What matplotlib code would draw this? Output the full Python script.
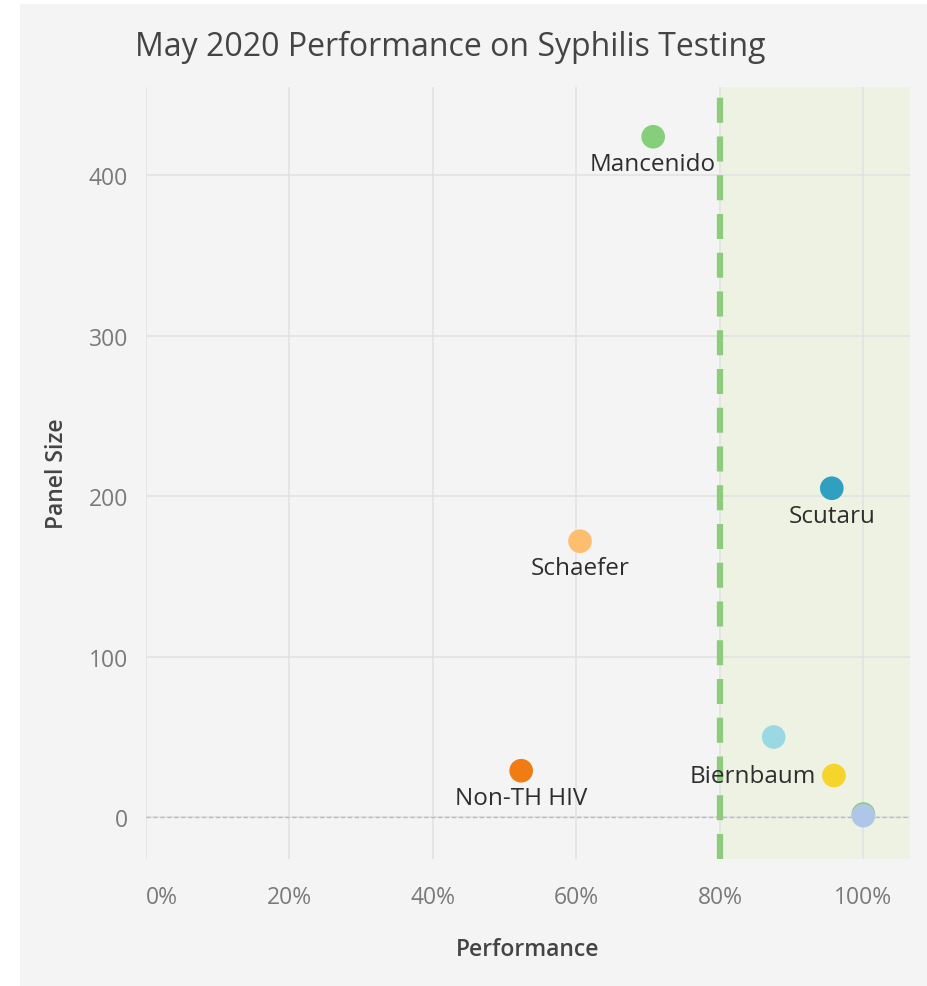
import matplotlib.pyplot as plt
from matplotlib.patches import Rectangle
from matplotlib.ticker import PercentFormatter

plt.rcParams['font.family'] = ['Open Sans', 'DejaVu Sans']

names = ['Mancenido', 'Scutaru', 'Schaefer', 'Non-TH HIV', '', 'Biernbaum', '', '']
performance = [0.707, 0.956, 0.605, 0.523, 0.875, 0.959, 1.0, 1.0]
panel_size = [424, 205, 172, 29, 50, 26, 2, 1]
colors = ['#86cf7a', '#2fa0bf', '#fdbf6f', '#ef7d14', '#9ad9e4', '#f5d42c', '#8cc97a', '#aec7e8']
# label offsets in points (dx, dy), alignment
label_pos = [(0, -11, 'center', 'top'), (0, -11, 'center', 'top'), (0, -11, 'center', 'top'),
             (0, -11, 'center', 'top'), None, (-13, 0, 'right', 'center'), None, None]

target = 0.8
x_ticks = [0, 0.2, 0.4, 0.6, 0.8, 1.0]
y_ticks = [0, 100, 200, 300, 400]

fig = plt.figure(figsize=(9.28, 9.87), dpi=100)
fig.patch.set_facecolor('white')
fig.patches.append(Rectangle((20 / 928, 0), 1, (987 - 5) / 987, transform=fig.transFigure,
                             facecolor='#f4f4f4', edgecolor='none', zorder=-10))

ax = fig.add_axes([146 / 928, 1 - 860 / 987, (910 - 146) / 928, (860 - 88) / 987])
ax.set_facecolor('#f4f4f4')
ax.set_xlim(0, 1.065)
ax.set_ylim(-26, 455)

ax.axvspan(target, 1.065, color='#eef2e3', zorder=0)
ax.axvline(target, color='#8ccc7c', lw=4.5, ls=(0, (4, 2.2)), zorder=2)
ax.axhline(0, color='#bbbbbb', lw=1, ls=(0, (3, 2)), zorder=1)

ax.set_xticks(x_ticks)
ax.set_yticks(y_ticks)
ax.xaxis.set_major_formatter(PercentFormatter(1.0, decimals=0))
ax.grid(True, color='#e2e2e2', lw=1.2, zorder=0)
ax.set_axisbelow(True)
for s in ax.spines.values():
    s.set_visible(False)
ax.tick_params(length=0, labelsize=16.5, labelcolor='#7a7a7a')
ax.tick_params(axis='x', pad=19)
ax.tick_params(axis='y', pad=13)
labels = ax.get_xticklabels()
labels[0].set_horizontalalignment('left')

ax.scatter(performance, panel_size, s=290, c=colors, zorder=4, edgecolors='none')
for n, x, y, p in zip(names, performance, panel_size, label_pos):
    if p is None:
        continue
    dx, dy, ha, va = p
    ax.annotate(n, (x, y), xytext=(dx, dy), textcoords='offset points',
                ha=ha, va=va, fontsize=17.5, color='#2e2e2e', zorder=5)

ax.set_xlabel('Performance', fontsize=16.5, fontweight='semibold', color='#444444', labelpad=20)
ax.set_ylabel('Panel Size', fontsize=16.5, fontweight='semibold', color='#444444', labelpad=14)
fig.text(135 / 928, 1 - 47 / 987, 'May 2020 Performance on Syphilis Testing',
         fontsize=23, color='#444444', ha='left', va='center')

fig.savefig('out.png', dpi=100)
